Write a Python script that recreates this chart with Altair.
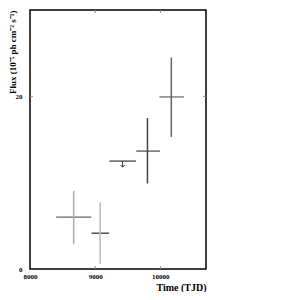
import altair as alt
import pandas as pd

# data
t_mid = [8670, 9077, 9421, 9802, 10168]
t_lo = [8401, 8944, 9219, 9630, 9985]
t_hi = [8940, 9214, 9625, 9995, 10361]
flux = [6.0, 4.15, 12.5, 13.66, 19.93]
flux_lo = [2.87, 0.6, None, 9.9, 15.3]
flux_hi = [9.05, 7.7, None, 17.5, 24.5]
hcol = ["#666666", "#222222", "#333333", "#444444", "#666666"]
vcol = ["#aaaaaa", "#bbbbbb", "#333333", "#444444", "#666666"]
limit_x = [9421]
limit_top = [12.5]
limit_bottom = [11.8]

x_ticks = [8000, 9000, 10000]
y_ticks = [0, 20]

W, H = 176, 259
FONT = "Liberation Serif"

df = pd.DataFrame(dict(t=t_mid, tlo=t_lo, thi=t_hi, f=flux, flo=flux_lo, fhi=flux_hi, hc=hcol, vc=vcol))
dv = df.dropna()
dl = pd.DataFrame(dict(t=limit_x, a=limit_top, b=limit_bottom))

xs = alt.Scale(domain=[8000, 10700], nice=False, zero=False)
ys = alt.Scale(domain=[0, 30], nice=False)

xax = alt.Axis(values=x_ticks, ticks=False, domain=False, grid=False, labelPadding=3,
               labelFlush=False, labelFont=FONT, labelFontWeight="bold", labelFontSize=7,
               labelColor="black",
               title="Time (TJD)", titleFont=FONT, titleFontWeight="bold", titleFontSize=10,
               titleAnchor="end", titlePadding=3, titleColor="black", format="d")
yax = alt.Axis(values=y_ticks, ticks=False, domain=False, grid=False, labelPadding=8,
               labelFlush=False, labelFont=FONT, labelFontWeight="bold", labelFontSize=7,
               labelColor="black",
               title="Flux (10⁻⁵ ph cm⁻² s⁻¹)", titleFont=FONT, titleFontWeight="bold",
               titleFontSize=9, titleAnchor="end", titleX=-22, titleY=0,
               titleBaseline="top", titleColor="black")

hbars = alt.Chart(df).mark_rule(strokeWidth=1.2).encode(
    x=alt.X("tlo:Q", scale=xs, axis=xax), x2="thi:Q",
    y=alt.Y("f:Q", scale=ys, axis=yax),
    color=alt.Color("hc:N", scale=None))
vbars = alt.Chart(dv).mark_rule(strokeWidth=1.5).encode(
    x=alt.X("t:Q", scale=xs), y=alt.Y("flo:Q", scale=ys), y2="fhi:Q",
    color=alt.Color("vc:N", scale=None))
lim = alt.Chart(dl).mark_rule(color="#333333", strokeWidth=1).encode(
    x=alt.X("t:Q", scale=xs), y=alt.Y("a:Q", scale=ys), y2="b:Q")
arrow = alt.Chart(dl).mark_point(shape="M -1 -1 L 0 0 L 1 -1", filled=False, size=18,
                                 color="#333333", strokeWidth=1, opacity=1).encode(
    x=alt.X("t:Q", scale=xs), y=alt.Y("b:Q", scale=ys))

dxt = pd.DataFrame(dict(t=x_ticks[1:]))
dyt = pd.DataFrame(dict(f=y_ticks[1:]))
xt_b = alt.Chart(dxt).mark_rule(color="#888888").encode(
    x=alt.X("t:Q", scale=xs), y=alt.value(H), y2=alt.value(H - 3))
xt_t = alt.Chart(dxt).mark_rule(color="#888888").encode(
    x=alt.X("t:Q", scale=xs), y=alt.value(0), y2=alt.value(3))
yt_l = alt.Chart(dyt).mark_rule(color="#888888").encode(
    y=alt.Y("f:Q", scale=ys), x=alt.value(0), x2=alt.value(3))
yt_r = alt.Chart(dyt).mark_rule(color="#888888").encode(
    y=alt.Y("f:Q", scale=ys), x=alt.value(W - 3), x2=alt.value(W))

chart = alt.layer(hbars, vbars, lim, arrow, xt_b, xt_t, yt_l, yt_r).properties(
    width=W, height=H, autosize=alt.AutoSizeParams(type="none"),
    padding={"left": 22, "top": 2, "right": 80, "bottom": 23},
    background="white"
).configure_view(stroke="black", strokeWidth=1.5)

chart.save("out.html", embed_options={"renderer": "svg", "actions": False})
